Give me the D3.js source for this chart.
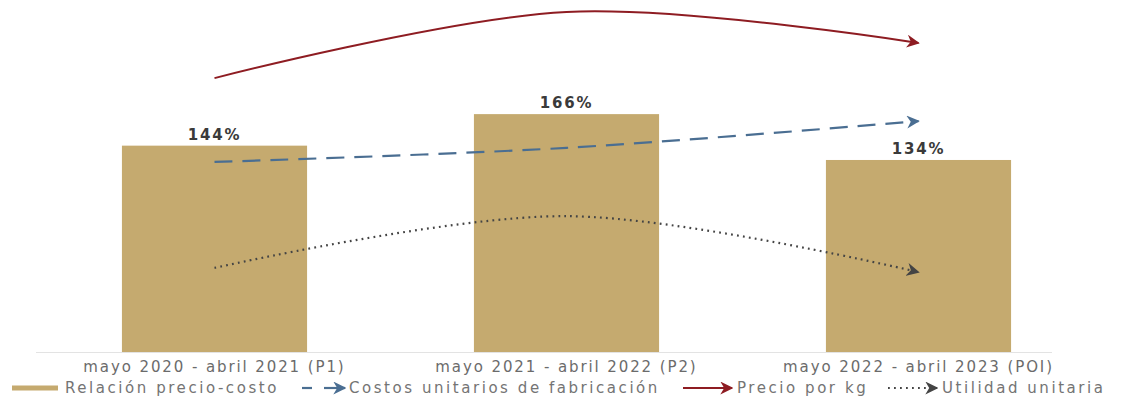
<!DOCTYPE html>
<html>
<head>
<meta charset="utf-8">
<script src="https://cdn.jsdelivr.net/npm/d3@7"></script>
<style>
  html, body { margin: 0; padding: 0; background: #fff; }
  svg text { font-family: "DejaVu Sans", sans-serif; }
</style>
</head>
<body>
<svg id="chart" width="1126" height="402"></svg>
<script>
// ---- data ----
const categories = ["mayo 2020 - abril 2021 (P1)", "mayo 2021 - abril 2022 (P2)", "mayo 2022 - abril 2023 (POI)"];
const relacionPrecioCosto = [144, 166, 134];           // %
const barLabels = ["144%", "166%", "134%"];
// trend indicators (relative index, no axis shown)
const precioPorKg = [77.8, 96.6, 87.8];
const costosUnitarios = [54.0, 58.0, 65.6];
const utilidadUnitaria = [23.9, 38.6, 22.7];
const legendLabels = ["Relación precio-costo", "Costos unitarios de fabricación", "Precio por kg", "Utilidad unitaria"];

// ---- layout ----
const baseline = 352;
const svg = d3.select("#chart");

const defs = svg.append("defs");
function marker(id, color, w) {
  defs.append("marker")
    .attr("id", id).attr("viewBox", "0 0 10 10")
    .attr("refX", 9).attr("refY", 5)
    .attr("markerUnits", "userSpaceOnUse")
    .attr("markerWidth", w).attr("markerHeight", w)
    .attr("orient", "auto")
    .append("path").attr("d", "M0,0 L10,5 L0,10 L3,5 Z").attr("fill", color);
}
marker("arRed", "#8e1c22", 13);
marker("arBlue", "#4a6e92", 13);
marker("arGrey", "#444", 13);

const x = d3.scaleBand().domain(categories).range([38.5, 1094.5]).paddingInner(0.474).paddingOuter(0.237);
const y = d3.scaleLinear().domain([0, 100]).range([baseline, baseline - 143.3]);
const yT = d3.scaleLinear().domain([0, 100]).range([baseline, 0]);

const colBar = "#c5aa6f";

// axis line
svg.append("line").attr("x1", 36).attr("x2", 1052).attr("y1", baseline + 0.5).attr("y2", baseline + 0.5)
  .attr("stroke", "#e3e3e3").attr("stroke-width", 1);

// bars
svg.selectAll("rect.bar").data(relacionPrecioCosto).join("rect")
  .attr("class", "bar")
  .attr("x", (d, i) => x(categories[i]))
  .attr("width", x.bandwidth())
  .attr("y", d => y(d))
  .attr("height", d => baseline - y(d))
  .attr("fill", colBar);

// bar labels
svg.selectAll("text.bl").data(relacionPrecioCosto).join("text")
  .attr("class", "bl")
  .attr("x", (d, i) => x(categories[i]) + x.bandwidth() / 2)
  .attr("y", d => y(d) - 6)
  .attr("text-anchor", "middle")
  .attr("font-size", 15).attr("font-weight", "bold")
  .attr("letter-spacing", 1.8)
  .attr("fill", "#3a3a3a")
  .text((d, i) => barLabels[i]);

// category labels
svg.selectAll("text.cat").data(categories).join("text")
  .attr("class", "cat")
  .attr("x", d => x(d) + x.bandwidth() / 2)
  .attr("y", 372)
  .attr("text-anchor", "middle")
  .attr("font-size", 15)
  .attr("letter-spacing", 1.9)
  .attr("fill", "#6b6b6b")
  .text(d => d);

// trend lines
const cx = i => x(categories[i]) + x.bandwidth() / 2;
const line = d3.line().x((d, i) => cx(i)).y(d => yT(d)).curve(d3.curveCardinal);

svg.append("path").datum(costosUnitarios).attr("d", line)
  .attr("fill", "none").attr("stroke", "#4a6e92").attr("stroke-width", 2.2)
  .attr("stroke-dasharray", "18,10").attr("marker-end", "url(#arBlue)");

svg.append("path").datum(precioPorKg).attr("d", line)
  .attr("fill", "none").attr("stroke", "#8e1c22").attr("stroke-width", 2)
  .attr("marker-end", "url(#arRed)");

svg.append("path").datum(utilidadUnitaria).attr("d", line)
  .attr("fill", "none").attr("stroke", "#444").attr("stroke-width", 2.2)
  .attr("stroke-dasharray", "1.8,4.2").attr("marker-end", "url(#arGrey)");

// legend
const lg = svg.append("g");
const ly = 388;
lg.append("rect").attr("x", 12).attr("y", ly - 2.5).attr("width", 46).attr("height", 5).attr("fill", colBar);
lg.append("line").attr("x1", 302).attr("x2", 312).attr("y1", ly).attr("y2", ly).attr("stroke", "#4a6e92").attr("stroke-width", 2.2);
lg.append("line").attr("x1", 324).attr("x2", 345).attr("y1", ly).attr("y2", ly).attr("stroke", "#4a6e92").attr("stroke-width", 2.2).attr("marker-end", "url(#arBlue)");
lg.append("line").attr("x1", 683).attr("x2", 732).attr("y1", ly).attr("y2", ly).attr("stroke", "#8e1c22").attr("stroke-width", 2).attr("marker-end", "url(#arRed)");
lg.append("line").attr("x1", 888).attr("x2", 937).attr("y1", ly).attr("y2", ly).attr("stroke", "#444").attr("stroke-width", 2.2).attr("stroke-dasharray", "1.8,4.2").attr("marker-end", "url(#arGrey)");

const legendX = [65, 349, 737, 942];
lg.selectAll("text").data(legendLabels).join("text")
  .attr("x", (d, i) => legendX[i]).attr("y", ly + 5)
  .attr("font-size", 15).attr("letter-spacing", 2.55)
  .attr("fill", "#747474")
  .text(d => d);
</script>
</body>
</html>
